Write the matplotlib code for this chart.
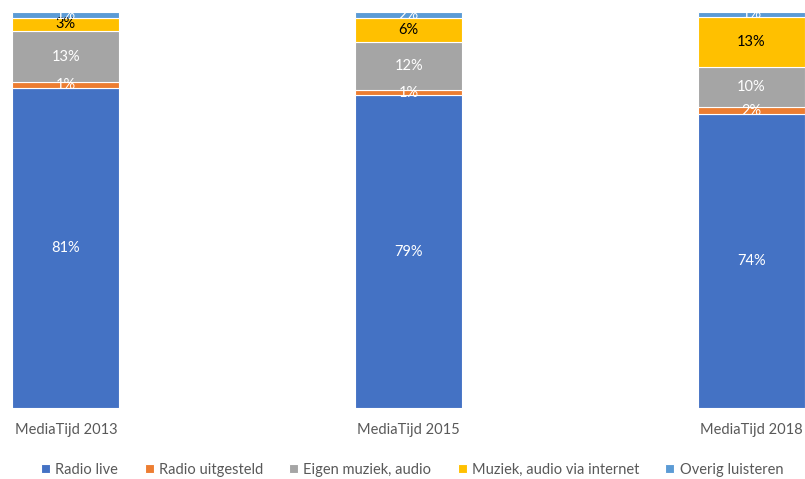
import numpy as np
import matplotlib
matplotlib.use("Agg")
import matplotlib.pyplot as plt

plt.rcParams['font.family'] = ['Lato', 'DejaVu Sans']

years = ["MediaTijd 2013", "MediaTijd 2015", "MediaTijd 2018"]
series = ["Radio live", "Radio uitgesteld", "Eigen muziek, audio",
          "Muziek, audio via internet", "Overig luisteren"]
radio_live = [80.8, 79.0, 74.4]
radio_uitgesteld = [1.4, 1.2, 1.6]
eigen_muziek = [12.9, 12.3, 10.3]
muziek_internet = [3.4, 5.9, 12.6]
overig = [1.4, 1.6, 1.2]

colors = ["#4472C4", "#ED7D31", "#A5A5A5", "#FFC000", "#5B9BD5"]
label_colors = ["white", "white", "white", "black", "white"]

values = np.array([radio_live, radio_uitgesteld, eigen_muziek,
                   muziek_internet, overig], dtype=float)
# 100% stacked: scale every column to its own total
shares = values / values.sum(axis=0) * 100

fig = plt.figure(figsize=(8.05, 4.79), dpi=100)
ax = fig.add_axes([0, 0.148, 1, 0.827])

x = np.arange(len(years))
width = 0.312
bottom = np.zeros(len(years))
for i, name in enumerate(series):
    ax.bar(x, shares[i], width, bottom=bottom, color=colors[i],
           edgecolor="white", linewidth=0.8, label=name)
    for xi, b, h, v in zip(x, bottom, shares[i], values[i]):
        ax.text(xi, b + h / 2, f"{v:.0f}%", ha="center", va="center",
                fontsize=10.5, color=label_colors[i], clip_on=False)
    bottom += shares[i]

ax.set_xlim(-66 / 343, 2 + 53.5 / 343)
ax.set_ylim(0, 100)
ax.set_yticks([])
ax.set_xticks(x)
ax.set_xticklabels(years, fontsize=10.5, color="#595959")
ax.tick_params(axis="x", length=0, pad=11)
for s in ax.spines.values():
    s.set_visible(False)

leg = fig.legend(loc="center", bbox_to_anchor=(0.512, 0.019), ncol=5,
                 frameon=False, fontsize=10.5, handlelength=0.62,
                 handleheight=0.62, handletextpad=0.35, columnspacing=1.8)
for t in leg.get_texts():
    t.set_color("#595959")

fig.savefig("out.png", dpi=100)
